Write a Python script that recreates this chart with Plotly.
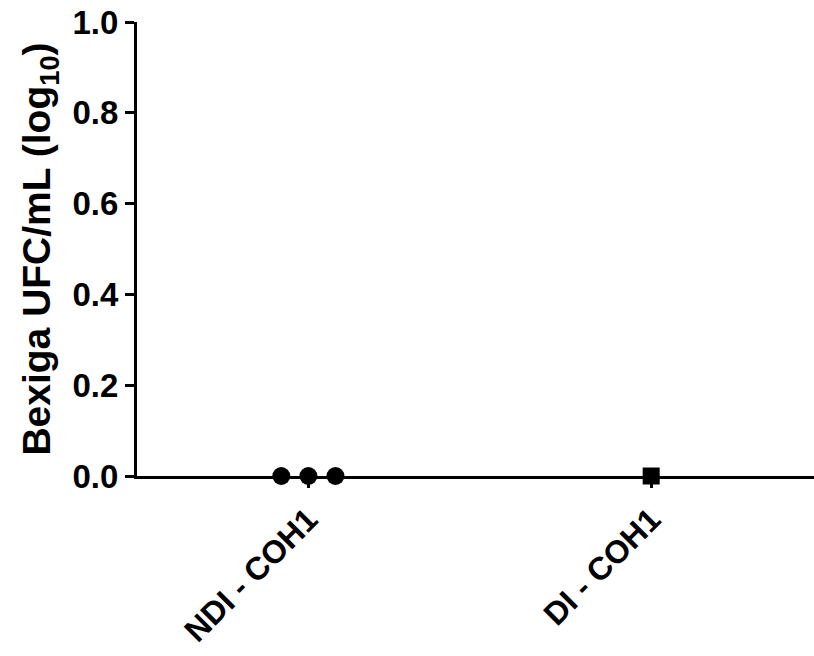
import plotly.graph_objects as go

categories = ["NDI - COH1", "DI - COH1"]
ndi_values = [0.0, 0.0, 0.0]
di_values = [0.0]
ndi_offsets = [-0.079, 0.0, 0.079]
di_offsets = [0.0]
y_ticks = [0.0, 0.2, 0.4, 0.6, 0.8, 1.0]

FONT = "Liberation Sans, Arial, sans-serif"

fig = go.Figure()
fig.add_trace(go.Scatter(
    x=[0 + o for o in ndi_offsets], y=ndi_values, mode="markers",
    marker=dict(symbol="circle", size=18, color="black"),
    cliponaxis=False, showlegend=False))
fig.add_trace(go.Scatter(
    x=[1 + o for o in di_offsets], y=di_values, mode="markers",
    marker=dict(symbol="square", size=17, color="black"),
    cliponaxis=False, showlegend=False))

fig.update_layout(
    width=814, height=656,
    margin=dict(l=137, r=0, t=22, b=180),
    plot_bgcolor="white", paper_bgcolor="white",
    font=dict(family=FONT, color="black"),
    xaxis=dict(
        range=[-0.5, 1.475], tickmode="array", tickvals=[0, 1],
        ticktext=["<b>%s</b>" % c for c in categories],
        tickangle=-45, ticks="outside", ticklen=9, tickwidth=3, tickcolor="black",
        showline=True, linewidth=3, linecolor="black", showgrid=False, zeroline=False,
        tickfont=dict(size=32, family=FONT, color="black"), automargin=False,
    ),
    yaxis=dict(
        range=[0, 1], tickmode="array", tickvals=y_ticks,
        ticktext=["<b>%.1f</b>" % v for v in y_ticks],
        ticks="outside", ticklen=9, tickwidth=3, tickcolor="black",
        showline=True, linewidth=3, linecolor="black", showgrid=False, zeroline=False,
        tickfont=dict(size=33, family=FONT, color="black"), automargin=False,
        title=dict(text="<b>Bexiga UFC/mL (log<sub>10</sub>)</b>",
                   font=dict(size=39, family=FONT, color="black"), standoff=10),
    ),
)

fig.write_html("out.html")
